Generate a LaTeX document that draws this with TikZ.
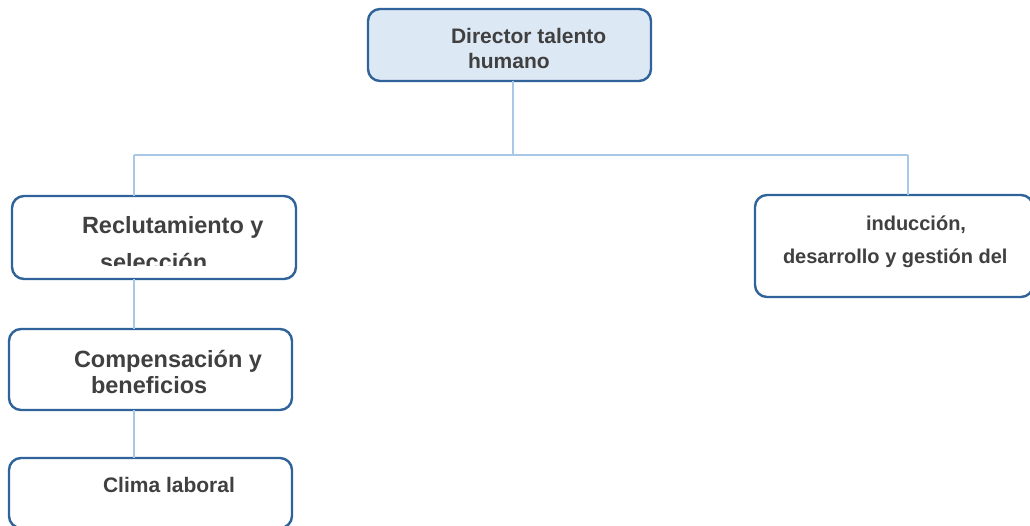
\documentclass[tikz,border=0pt]{standalone}
\usepackage{fontspec}
\setmainfont{Liberation Sans}
\definecolor{boxline}{HTML}{2F6399}
\definecolor{boxfill}{HTML}{DDE8F5}
\definecolor{linkblue}{HTML}{A9C8E8}
\definecolor{txtgray}{HTML}{404040}

\begin{document}
\begin{tikzpicture}[x=1pt,y=-1pt,
  every node/.style={outer sep=0pt, inner sep=0pt},
  unit/.style={draw=boxline, line width=2.4pt, rounded corners=12pt, fill=white},
  lbl/.style={anchor=base west, text=txtgray},
  mid/.style={font=\bfseries\fontsize{21}{25}\selectfont},
  big/.style={font=\bfseries\fontsize{23.5}{28}\selectfont},
  small/.style={font=\bfseries\fontsize{20}{24}\selectfont},
  link/.style={draw=linkblue, line width=1.3pt}]
\clip (0,0) rectangle (1030,525);

\node[unit, fill=boxfill, minimum width=283, minimum height=72] (director) at (509.5,45) {};
\node[unit, minimum width=284, minimum height=83] (reclut) at (154,237.5) {};
\node[unit, minimum width=278, minimum height=102] (induc) at (894,246) {};
\node[unit, minimum width=283, minimum height=81] (compen) at (150.5,369.5) {};
\node[unit, minimum width=283, minimum height=70] (clima) at (150.5,493) {};

\coordinate (hub) at (513,155);
\coordinate (lbranch) at (134,155);
\coordinate (rbranch) at (908,155);
\draw[link] (director.south -| hub) -- (hub);
\draw[link] (lbranch) -- (rbranch);
\draw[link] (lbranch) -- (lbranch |- reclut.north);
\draw[link] (rbranch) -- (rbranch |- induc.north);
\draw[link] (lbranch |- reclut.south) -- (lbranch |- compen.north);
\draw[link] (lbranch |- compen.south) -- (lbranch |- clima.north);

\node[lbl, mid] (dir1) at (451,43) {Director talento};
\node[lbl, mid] (dir2) at (468,68) {humano};

\node[lbl, big] (rec1) at (82,233) {Reclutamiento y};
\begin{scope}
\clip (12,196) rectangle (296,265);
\node[lbl, big] (rec2) at (100,270) {selección};
\end{scope}

\node[lbl, small] (ind1) at (866,230) {inducción,};
\node[lbl, small] (ind2) at (783,263) {desarrollo y gestión del};

\node[lbl, big] (com1) at (74,367) {Compensación y};
\node[lbl, big] (com2) at (91,393) {beneficios};

\node[lbl, mid] (cli1) at (103,492) {Clima laboral};
\end{tikzpicture}
\end{document}
